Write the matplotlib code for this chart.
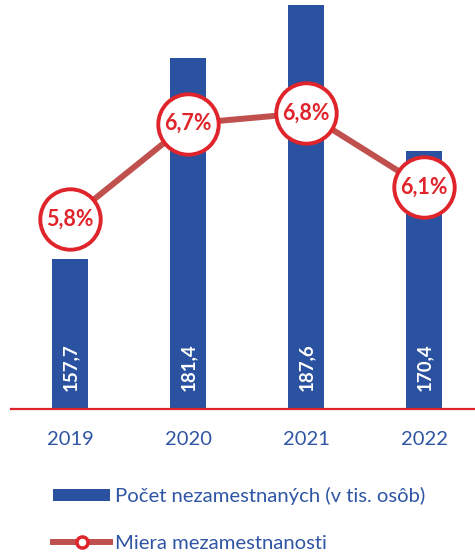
import matplotlib
matplotlib.use("Agg")
import matplotlib.pyplot as plt
from matplotlib.patches import Patch
from matplotlib.lines import Line2D

years = ["2019", "2020", "2021", "2022"]
unemployed = [157.7, 181.4, 187.6, 170.4]
rate = [5.8, 6.7, 6.8, 6.1]
bar_labels = ["157,7", "181,4", "187,6", "170,4"]
rate_labels = ["5,8%", "6,7%", "6,8%", "6,1%"]

BLUE = "#2a52a0"
TEXT_BLUE = "#2f55a4"
LINE = "#c0504d"
RED = "#e0242b"

plt.rcParams['font.family'] = ['Lato', 'DejaVu Sans']

fig = plt.figure(figsize=(4.75, 5.53), dpi=100)
W, H = 475, 553
ax = fig.add_axes([11 / W, (H - 409) / H, 472 / W, 409 / H])
x = list(range(len(years)))
ax.bar(x, unemployed, width=0.31, color=BLUE, zorder=2)
ax.set_xlim(-0.5, 3.5)
ax.set_ylim(140.0, 188.2)
for s in ["top", "left", "right"]:
    ax.spines[s].set_visible(False)
ax.spines["bottom"].set_color(RED)
ax.spines["bottom"].set_linewidth(1.6)
ax.set_yticks([])
ax.set_xticks(x)
ax.set_xticklabels(years, color=TEXT_BLUE, fontsize=14.5)
ax.tick_params(axis="x", length=0, pad=16)

for xi, lab in zip(x, bar_labels):
    ax.annotate(lab, (xi, 140.0), xytext=(0, 18), textcoords="offset pixels",
                rotation=90, ha="center", va="bottom", color="white",
                fontsize=13.5, fontweight="bold", zorder=3)

ax2 = ax.twinx()
ax2.set_ylim(4.0, 7.87)
ax2.axis("off")
ax2.plot(x, rate, color=LINE, lw=4.3, zorder=3, solid_capstyle="butt")
ax2.plot(x, rate, ls="none", marker="o", ms=43.5, mfc="white", mec=RED, mew=2.8, zorder=4)
for xi, yi, lab in zip(x, rate, rate_labels):
    ax2.text(xi, yi, lab, ha="center", va="center", color=RED,
             fontsize=15.5, fontweight="bold", zorder=5)

handles = [
    Patch(facecolor=BLUE, edgecolor="none"),
    Line2D([0], [0], color=LINE, lw=4.3, marker="o", ms=8, mfc="white", mec=RED, mew=2.5),
]
labels = ["Počet nezamestnaných (v tis. osôb)", "Miera mezamestnanosti"]
leg = fig.legend(handles, labels, loc="upper left", bbox_to_anchor=(45 / W, 1 - 479 / H),
                 frameon=False, fontsize=14.6, handlelength=2.8, handleheight=0.6,
                 handletextpad=0.25, labelspacing=1.45, borderaxespad=0)
for t in leg.get_texts():
    t.set_color(TEXT_BLUE)

fig.savefig("out.png", dpi=100)
